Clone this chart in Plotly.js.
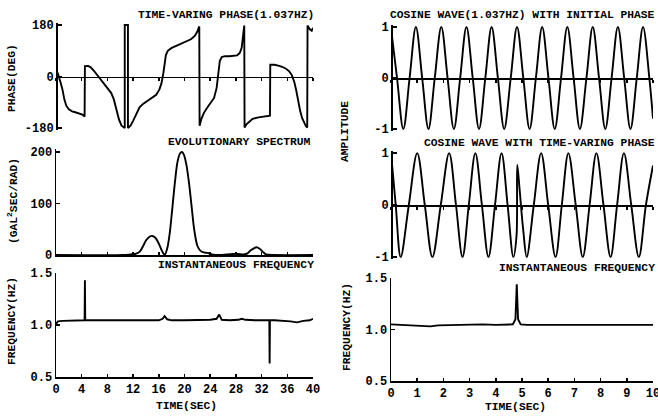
<!DOCTYPE html>
<html>
<head>
<meta charset="utf-8">
<script src="https://cdn.plot.ly/plotly-3.0.1.min.js"></script>
<style>html,body{margin:0;padding:0;background:#fff;}#chart{width:658px;height:420px;}</style>
</head>
<body>
<div id="chart"></div>
<script>
// ---------- DATA ----------
// Time-varying phase (deg) vs time (sec), 0-40 s
var phaseT = [0,0.3,0.7,1.0,1.3,1.6,2.0,2.5,3.0,3.6,4.1,4.45,4.5,5.0,5.4,5.9,6.4,6.9,7.5,8.0,8.6,9.0,9.4,9.8,10.2,10.6,10.7,10.7,11.2,11.2,11.6,12.0,12.5,13.0,13.6,14.3,15.0,15.6,16.1,16.4,16.7,16.9,17.1,17.4,18.0,18.8,19.6,20.4,21.0,21.6,22.0,22.3,22.35,22.6,23.0,23.5,24.0,24.6,25.0,25.3,25.5,25.8,26.3,27.0,27.6,28.2,28.6,28.9,29.1,29.3,29.35,29.6,30.0,30.6,31.5,32.5,33.3,33.35,34.0,34.6,35.2,35.8,36.3,36.7,37.1,37.4,37.7,38.0,38.3,38.6,38.9,39.1,39.15,39.5,39.8,40];
var phaseDeg = [22,10,-20,-45,-80,-102,-115,-122,-125,-128,-133,-140,36,37,32,20,5,-10,-27,-40,-58,-80,-112,-150,-172,-180,-180,180,180,-180,-172,-155,-130,-108,-95,-85,-75,-64,-45,-25,10,45,75,90,100,108,115,122,130,142,157,175,-172,-150,-128,-110,-95,-75,-40,20,55,68,71,71,72,74,82,100,140,178,-178,-168,-160,-148,-143,-140,-137,41,41,38,34,27,18,5,-20,-50,-88,-120,-145,-162,-174,-178,178,165,160,170];

// Evolutionary spectrum (gal^2 sec/rad)
var specT = [0,10.5,11.5,12.3,13.0,13.5,14.0,14.5,15.0,15.5,16.0,16.5,16.9,17.3,17.7,18.1,18.5,18.9,19.3,19.6,19.9,20.3,20.7,21.1,21.5,22.0,22.5,23.0,23.6,24.3,25.5,26.5,27.5,28.3,29.2,29.8,30.3,30.8,31.2,31.7,32.2,32.7,34,40];
var specVal = [0,0,1,2,6,16,28,35,37,33,22,8,0,12,42,90,140,180,197,200,195,175,140,95,50,18,8,5,4,1,0,1,2,2,1,3,9,13,15,12,6,1,0,0];

// Instantaneous frequency (Hz), left, 0-40 s
var freqLT = [0,0.3,1,2,3,4,4.45,4.5,4.55,5,6,8,10,12,14,16,16.6,16.9,17.3,18,20,22,24,25,25.4,25.8,27,28.4,28.9,29.5,31,33.2,33.25,33.3,34,35.5,36.5,37.5,38.5,39.5,40];
var freqLV = [1.01,1.035,1.04,1.04,1.045,1.045,1.045,1.43,1.045,1.045,1.045,1.045,1.045,1.05,1.05,1.045,1.06,1.085,1.055,1.045,1.045,1.045,1.05,1.06,1.1,1.05,1.045,1.05,1.06,1.05,1.045,1.045,0.63,1.045,1.045,1.04,1.035,1.025,1.04,1.045,1.06];

// Cosine wave (1.037 Hz) with initial phase: peaks, zero crossings, troughs
var cos1T = [0,0.23,0.47,0.71,0.95,1.19,1.43,1.67,1.92,2.16,2.40,2.64,2.88,3.12,3.36,3.60,3.84,4.08,4.32,4.57,4.81,5.05,5.29,5.53,5.77,6.01,6.25,6.49,6.73,6.97,7.21,7.46,7.70,7.94,8.18,8.42,8.66,8.90,9.14,9.38,9.62,9.86,10];
var cos1V = [0.98,0,-1,0,1,0,-1,0,1,0,-1,0,1,0,-1,0,1,0,-1,0,1,0,-1,0,1,0,-1,0,1,0,-1,0,1,0,-1,0,1,0,-1,0,1,0,-0.8];

// Cosine wave with time-varying phase
var cos2T = [0,0.18,0.37,0.68,1.0,1.29,1.58,1.90,2.22,2.48,2.73,2.97,3.22,3.47,3.72,3.97,4.22,4.45,4.67,4.79,4.82,4.9,5.05,5.18,5.45,5.73,6.0,6.28,6.52,6.77,7.05,7.32,7.58,7.84,8.11,8.38,8.63,8.89,9.17,9.46,9.73,10];
var cos2V = [1,0,-1,0,1,0,-1,0,1,0,-1,0,1,0,-1,0,1,0,-1,-0.6,0.77,0.35,-0.5,-1,0,1,0,-1,0,1,0,-1,0,1,0,-1,0,1,0,-1,0,0.76];

// Instantaneous frequency (Hz), right, 0-10 s
var freqRT = [0,0.5,1.0,1.5,1.8,2.5,3,3.5,4,4.5,4.65,4.75,4.8,4.85,4.95,5.2,6,7,8,9,10];
var freqRV = [1.05,1.045,1.035,1.03,1.04,1.045,1.045,1.05,1.045,1.045,1.05,1.1,1.44,1.1,1.05,1.045,1.045,1.045,1.045,1.045,1.045];

// Tick labels
var phaseTicks = [-180,0,180], phaseTickText = ['-180','0','180'];
var specTicks = [0,100,200], specTickText = ['0','100','200'];
var freqTicks = [0.5,1.0,1.5], freqTickText = ['0.5','1.0','1.5'];
var ampTicks = [-1,0,1], ampTickText = ['-1','0','1'];

// ---------- LAYOUT ----------
var W = 658, H = 420;
function px(x){return x/W;}
function py(y){return 1-y/H;}
var FONT = 'Liberation Mono, DejaVu Sans Mono, monospace';
var tickFont = {family: FONT, size: 12, color: '#000', weight: 'bold'};
var LX = [px(56), px(313)];
var RX = [px(391), px(653)];

var lineStyle = {color:'#000', width:1.9};

var traces = [
  {x: phaseT, y: phaseDeg, xaxis:'x', yaxis:'y', mode:'lines', line: lineStyle},
  {x: specT, y: specVal, xaxis:'x2', yaxis:'y2', mode:'lines', line: {color:'#000', width:1.9, shape:'spline', smoothing:0.8}},
  {x: freqLT, y: freqLV, xaxis:'x3', yaxis:'y3', mode:'lines', line: lineStyle},
  {x: cos1T, y: cos1V, xaxis:'x4', yaxis:'y4', mode:'lines', line: {color:'#000', width:1.9, shape:'spline', smoothing:1}},
  {x: cos2T, y: cos2V, xaxis:'x5', yaxis:'y5', mode:'lines', line: {color:'#000', width:1.9, shape:'spline', smoothing:1}},
  {x: freqRT, y: freqRV, xaxis:'x6', yaxis:'y6', mode:'lines', line: lineStyle}
];

var axBase = {showgrid:false, zeroline:false, showline:true, linecolor:'#000', linewidth:1.5,
  tickcolor:'#000', tickwidth:1.5, tickfont: tickFont, fixedrange:true};
function ax(o){ var r = {}; for (var k in axBase) r[k]=axBase[k]; for (var k2 in o) r[k2]=o[k2]; return r; }

// y domains
var dTL = [py(130), py(23)], dML = [py(255), py(149.4)], dBL = [py(377), py(273)];
var dTR = [py(131), py(25)], dMR = [py(259), py(151)], dBR = [py(381), py(278)];
function mid(d){return (d[0]+d[1])/2;}

var layout = {
  width: W, height: H, margin:{l:0,r:0,t:0,b:0}, showlegend:false,
  paper_bgcolor:'#fff', plot_bgcolor:'rgba(0,0,0,0)',
  font: {family: FONT, color:'#000', size: 12, weight:'bold'},
  // top-left
  xaxis: ax({domain: LX, range:[0,40], anchor:'free', position: mid(dTL), ticks:'outside', ticklen:3, tick0:0, dtick:4, showticklabels:false}),
  xaxis7: ax({domain: LX, range:[0,40], anchor:'free', position: mid(dTL), overlaying:'x', ticks:'inside', ticklen:3, tick0:0, dtick:4, showticklabels:false, showline:false}),
  yaxis: ax({domain: dTL, range:[-187,187], anchor:'free', position: LX[0], ticks:'inside', ticklen:4, tickmode:'array', tickvals: phaseTicks, ticktext: phaseTickText}),
  // middle-left
  xaxis2: ax({domain: LX, range:[0,40], anchor:'y2', ticks:'inside', ticklen:3, tick0:0, dtick:4, showticklabels:false}),
  yaxis2: ax({domain: dML, range:[0,205], anchor:'x2', ticks:'inside', ticklen:4, tickmode:'array', tickvals: specTicks, ticktext: specTickText}),
  // bottom-left
  xaxis3: ax({domain: LX, range:[0,40], anchor:'y3', ticks:'inside', ticklen:3, tick0:0, dtick:4, ticklabeloverflow:'allow'}),
  yaxis3: ax({domain: dBL, range:[0.5,1.5], anchor:'x3', ticks:'inside', ticklen:4, tickmode:'array', tickvals: freqTicks, ticktext: freqTickText}),
  // top-right
  xaxis4: ax({domain: RX, range:[0,10], anchor:'free', position: mid(dTR), ticks:'outside', ticklen:3, tick0:0, dtick:1, showticklabels:false}),
  xaxis8: ax({domain: RX, range:[0,10], anchor:'free', position: mid(dTR), overlaying:'x4', ticks:'inside', ticklen:3, tick0:0, dtick:1, showticklabels:false, showline:false}),
  yaxis4: ax({domain: dTR, range:[-1.04,1.04], anchor:'free', position: RX[0], ticks:'inside', ticklen:4, tickmode:'array', tickvals: ampTicks, ticktext: ampTickText}),
  // middle-right
  xaxis5: ax({domain: RX, range:[0,10], anchor:'free', position: mid(dMR), ticks:'outside', ticklen:3, tick0:0, dtick:1, showticklabels:false}),
  xaxis9: ax({domain: RX, range:[0,10], anchor:'free', position: mid(dMR), overlaying:'x5', ticks:'inside', ticklen:3, tick0:0, dtick:1, showticklabels:false, showline:false}),
  yaxis5: ax({domain: dMR, range:[-1.04,1.04], anchor:'free', position: RX[0], ticks:'inside', ticklen:4, tickmode:'array', tickvals: ampTicks, ticktext: ampTickText}),
  // bottom-right
  xaxis6: ax({domain: RX, range:[0,10], anchor:'y6', ticks:'inside', ticklen:3, tick0:0, dtick:1, ticklabeloverflow:'allow'}),
  yaxis6: ax({domain: dBR, range:[0.5,1.5], anchor:'x6', ticks:'inside', ticklen:4, tickmode:'array', tickvals: freqTicks, ticktext: freqTickText}),
  annotations: []
};

var titleFont = {family: FONT, size: 11.3, color:'#000', weight:'bold'};
function ann(text, x, y, xanchor, angle){
  return {text: text, xref:'paper', yref:'paper', x: px(x), y: py(y), xanchor: xanchor || 'right', yanchor:'middle',
    showarrow:false, font: titleFont, textangle: angle || 0};
}
layout.annotations.push(ann('TIME-VARING PHASE(1.037HZ)', 316, 15));
layout.annotations.push(ann('EVOLUTIONARY SPECTRUM', 313, 142));
layout.annotations.push(ann('INSTANTANEOUS FREQUENCY', 316, 265));
layout.annotations.push(ann('COSINE WAVE(1.037HZ) WITH INITIAL PHASE', 657, 15));
layout.annotations.push(ann('COSINE WAVE WITH TIME-VARING PHASE', 657, 143));
layout.annotations.push(ann('INSTANTANEOUS FREQUENCY', 657, 268));
layout.annotations.push(ann('TIME(SEC)', 186, 406, 'center'));
layout.annotations.push(ann('TIME(SEC)', 515, 407, 'center'));
layout.annotations.push(ann('PHASE(DEG)', 12, 78, 'center', -90));
layout.annotations.push(ann('(GAL<sup>2</sup>SEC/RAD)', 12, 201, 'center', -90));
layout.annotations.push(ann('FREQUENCY(HZ)', 12, 321, 'center', -90));
layout.annotations.push(ann('AMPLITUDE', 345, 132, 'center', -90));
layout.annotations.push(ann('FREQUENCY(HZ)', 347, 327, 'center', -90));

Plotly.newPlot('chart', traces, layout, {displayModeBar:false, staticPlot:true});
</script>
</body>
</html>
